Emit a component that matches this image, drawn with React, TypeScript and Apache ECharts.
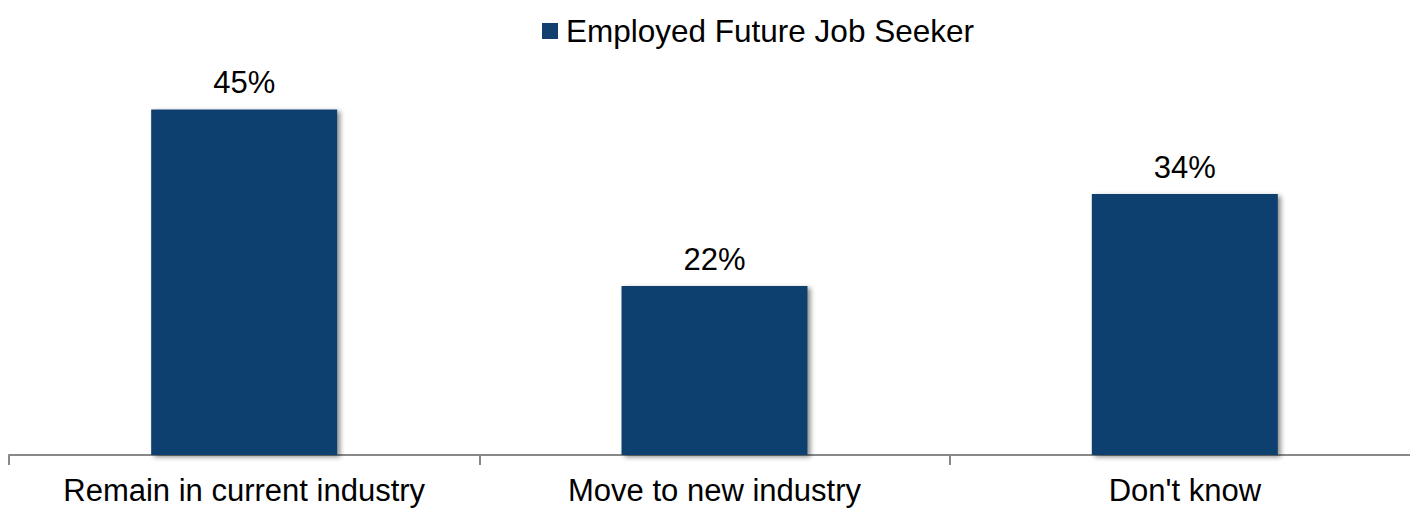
import React, { useEffect, useRef } from "react";
import * as echarts from "echarts";

const categories = ["Remain in current industry", "Move to new industry", "Don't know"];
const seriesName = "Employed Future Job Seeker";
const values = [45, 22, 34];

const FONT = "Liberation Sans, Arial, sans-serif";

export default function App() {
  const ref = useRef<HTMLDivElement>(null);
  useEffect(() => {
    document.body.style.margin = "0";
    const chart = echarts.init(ref.current!, null, { renderer: "svg" });
    chart.setOption({
      animation: false,
      textStyle: { fontFamily: FONT },
      legend: {
        data: [seriesName],
        top: 10,
        left: 537,
        icon: "rect",
        itemWidth: 16,
        itemHeight: 16,
        itemGap: 6,
        textStyle: { fontSize: 31.5, color: "#000", fontFamily: FONT, padding: [0, 0, 0, 3] },
      },
      grid: {
        left: 9,
        width: 1411,
        top: 71,
        height: 384,
        containLabel: false,
        outerBoundsMode: "none",
      },
      xAxis: {
        type: "category",
        data: categories,
        axisLine: { lineStyle: { color: "#888", width: 2 } },
        axisTick: { show: true, interval: 0, length: 10, lineStyle: { color: "#888", width: 2 } },
        axisLabel: { interval: 0, fontSize: 31, color: "#000", margin: 20, fontFamily: FONT },
      },
      yAxis: {
        type: "value",
        min: 0,
        max: 50,
        show: false,
        splitLine: { show: false },
      },
      series: [
        {
          name: seriesName,
          type: "bar",
          data: values,
          barWidth: 186,
          itemStyle: {
            color: "#11406E",
            shadowColor: "rgba(0,0,0,0.45)",
            shadowBlur: 5,
            shadowOffsetX: 3,
            shadowOffsetY: 2,
          },
          label: {
            show: true,
            position: "top",
            distance: 11,
            formatter: "{c}%",
            fontSize: 31,
            color: "#000",
            fontFamily: FONT,
          },
        },
      ],
    });
    return () => chart.dispose();
  }, []);
  return <div ref={ref} style={{ width: 1410, height: 508 }} />;
}
